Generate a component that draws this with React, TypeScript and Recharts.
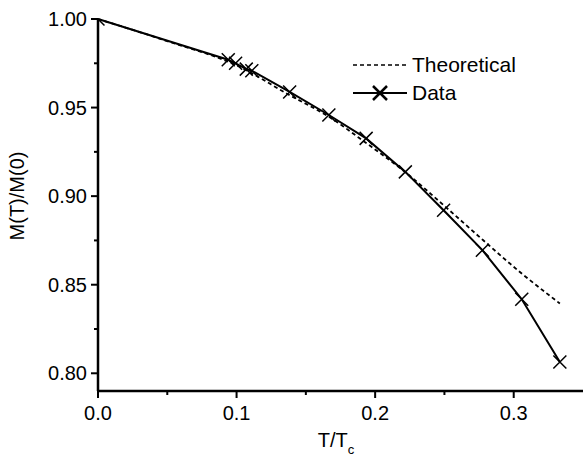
import { LineChart, Line, XAxis, YAxis, Legend } from 'recharts';

// measured data (crosses)
const dataT = [0, 0.094, 0.0993, 0.107, 0.111, 0.1383, 0.1666, 0.1935, 0.2218, 0.2494, 0.2774, 0.3058, 0.3333];
const dataM = [1.0, 0.977, 0.975, 0.9717, 0.9708, 0.9588, 0.9458, 0.9326, 0.9137, 0.892, 0.8695, 0.8418, 0.8064];

// theoretical curve (dashed)
const theoryT = [0, 0.05, 0.1, 0.1383, 0.1666, 0.1935, 0.2218, 0.2494, 0.2774, 0.3058, 0.3333];
const theoryM = [1.0, 0.9875, 0.9738, 0.957, 0.9448, 0.93, 0.9135, 0.8949, 0.8755, 0.8563, 0.8394];

const xTicks = [0, 0.05, 0.1, 0.15, 0.2, 0.25, 0.3];
const yTicks = [0.8, 0.825, 0.85, 0.875, 0.9, 0.925, 0.95, 0.975, 1.0];

const measured = dataT.map((T, i) => ({ T, M: dataM[i] }));
const theory = theoryT.map((T, i) => ({ T, M: theoryM[i] }));

const FONT = '"Liberation Sans", Arial, sans-serif';

const CrossDot = (props: any) => {
  const { cx, cy, payload } = props;
  if (cx == null || cy == null) return null;
  const s = 6.5;
  // first point sits in the corner, only the inner arm shows
  const d =
    payload.T === 0
      ? `M${cx},${cy}L${cx + s},${cy + s}`
      : `M${cx - s},${cy - s}L${cx + s},${cy + s}M${cx - s},${cy + s}L${cx + s},${cy - s}`;
  return <path d={d} stroke="#000" strokeWidth={1.5} fill="none" />;
};

const isMajor = (v: number, step: number) => Math.abs(v / step - Math.round(v / step)) < 1e-6;

const XTick = ({ x, y, payload }: any) => {
  const major = isMajor(payload.value, 0.1);
  return (
    <g>
      <line x1={x} y1={y} x2={x} y2={y + (major ? 7 : 4)} stroke="#000" strokeWidth={2} />
      {major && (
        <text x={x} y={y + 29} textAnchor="middle" fontSize={20} fontFamily={FONT} fill="#000">
          {payload.value.toFixed(1)}
        </text>
      )}
    </g>
  );
};

const YTick = ({ x, y, payload }: any) => {
  const major = isMajor(payload.value, 0.05);
  return (
    <g>
      <line x1={x} y1={y} x2={x - (major ? 7 : 4)} y2={y} stroke="#000" strokeWidth={2} />
      {major && (
        <text x={x - 11} y={y + 7} textAnchor="end" fontSize={20} fontFamily={FONT} fill="#000">
          {payload.value.toFixed(2)}
        </text>
      )}
    </g>
  );
};

const LegendBox = () => (
  <svg width={200} height={60} style={{ overflow: 'visible' }}>
    <line x1={3} y1={15} x2={57} y2={15} stroke="#000" strokeWidth={1.5} strokeDasharray="4 3" />
    <text x={62} y={22} fontSize={21} fontFamily={FONT} fill="#000">Theoretical</text>
    <line x1={3} y1={43} x2={57} y2={43} stroke="#000" strokeWidth={2} />
    <path d="M23,36L37,50M23,50L37,36" stroke="#000" strokeWidth={2.5} />
    <text x={62} y={50} fontSize={21} fontFamily={FONT} fill="#000">Data</text>
  </svg>
);

const App = () => {
  return (
    <div style={{ position: 'absolute', left: 0, top: 0, width: 588, height: 460, background: '#fff' }}>
      <LineChart width={588} height={460} margin={{ top: 19, right: 5, bottom: 24, left: 0 }}>
        <XAxis
          type="number"
          dataKey="T"
          domain={[0, 0.35]}
          ticks={xTicks}
          interval={0}
          tick={<XTick />}
          tickLine={false}
          tickSize={0}
          tickMargin={0}
          height={45}
          axisLine={{ stroke: '#000', strokeWidth: 2.5 }}
          allowDecimals
          label={{
            content: () => (
              <text x={336} y={447} textAnchor="middle" fontSize={20} fontFamily={FONT} fill="#000">
                T/T<tspan fontSize={13} dy={7}>c</tspan>
              </text>
            ),
          }}
        />
        <YAxis
          type="number"
          dataKey="M"
          domain={[0.79, 1.0]}
          ticks={yTicks}
          interval={0}
          tick={<YTick />}
          tickLine={false}
          tickSize={0}
          tickMargin={0}
          width={98}
          axisLine={{ stroke: '#000', strokeWidth: 2.5 }}
          label={{
            content: () => (
              <text
                x={24}
                y={196}
                transform="rotate(-90, 24, 196)"
                textAnchor="middle"
                fontSize={20}
                fontFamily={FONT}
                fill="#000"
              >
                M(T)/M(0)
              </text>
            ),
          }}
        />
        <Legend
          verticalAlign="middle"
          layout="horizontal"
          content={() => <LegendBox />}
          wrapperStyle={{ left: 350, top: 50, width: 200, height: 60 }}
        />
        <Line
          data={theory}
          dataKey="M"
          type="monotone"
          stroke="#000"
          strokeWidth={1.8}
          strokeDasharray="4 3"
          dot={false}
          isAnimationActive={false}
        />
        <Line
          data={measured}
          dataKey="M"
          type="linear"
          stroke="#000"
          strokeWidth={2}
          dot={(p: any) => <CrossDot key={p.index} {...p} />}
          isAnimationActive={false}
        />
      </LineChart>
    </div>
  );
};

export default App;
